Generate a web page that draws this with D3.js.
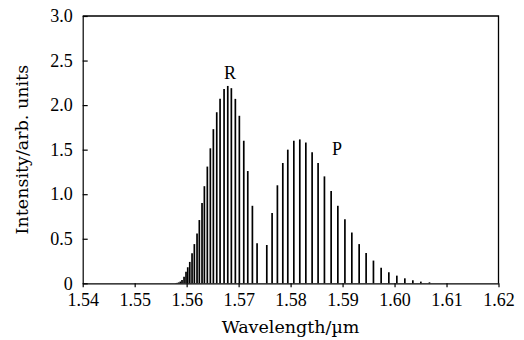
<!DOCTYPE html>
<html>
<head>
<meta charset="utf-8">
<script src="https://cdn.jsdelivr.net/npm/d3@7"></script>
<style>
  html, body { margin: 0; padding: 0; background: #fff; }
  svg { display: block; }
  text { font-family: "Liberation Serif", "Times New Roman", serif; fill: #000; }
</style>
</head>
<body>
<svg id="chart" width="524" height="340"></svg>
<script>
// R-branch line positions (µm) and intensities (arb. units)
const rWavelength = [
  1.55790, 1.55818, 1.55848, 1.55879, 1.55911, 1.55950, 1.55988, 1.56021,
  1.56060, 1.56104, 1.56148, 1.56200, 1.56244, 1.56296, 1.56341, 1.56398,
  1.56456, 1.56514, 1.56579, 1.56643, 1.56720, 1.56791, 1.56860, 1.56937,
  1.57014, 1.57099, 1.57176, 1.57265, 1.57355
];
const rIntensity = [
  0.002, 0.005, 0.010, 0.020, 0.037, 0.074, 0.130, 0.180,
  0.240, 0.337, 0.440, 0.560, 0.710, 0.900, 1.090, 1.310,
  1.515, 1.730, 1.920, 2.070, 2.180, 2.215, 2.190, 2.070,
  1.880, 1.600, 1.260, 0.870, 0.450
];

// P-branch line positions (µm) and intensities (arb. units)
const pWavelength = [
  1.57542, 1.57644, 1.57746, 1.57850, 1.57946, 1.58062, 1.58177, 1.58293,
  1.58414, 1.58529, 1.58651, 1.58780, 1.58909, 1.59045, 1.59178, 1.59319,
  1.59453, 1.59594, 1.59742, 1.59890, 1.60044, 1.60198, 1.60352, 1.60506,
  1.60672
];
const pIntensity = [
  0.430, 0.790, 1.100, 1.350, 1.500, 1.600, 1.615, 1.580,
  1.470, 1.350, 1.200, 1.035, 0.870, 0.720, 0.570, 0.440,
  0.340, 0.255, 0.175, 0.124, 0.086, 0.056, 0.034, 0.019,
  0.011
];

// Axis ticks
const xTicks = [1.54, 1.55, 1.56, 1.57, 1.58, 1.59, 1.60, 1.61, 1.62];
const yTicks = [0, 0.5, 1.0, 1.5, 2.0, 2.5, 3.0];

// Branch labels: [text, wavelength, intensity]
const branchLabels = [["R", 1.56835, 2.29], ["P", 1.58895, 1.44]];

const width = 524, height = 340;
const margin = { top: 16, right: 25.5, bottom: 56.7, left: 82.7 };
const titleFont = "'DejaVu Serif', serif";

const svg = d3.select("#chart");

const x = d3.scaleLinear()
  .domain([1.54, 1.62])
  .range([margin.left, width - margin.right]);
const y = d3.scaleLinear()
  .domain([0, 3.0])
  .range([height - margin.bottom, margin.top]);

const lines = rWavelength.map((w, i) => ({ w, v: rIntensity[i] }))
  .concat(pWavelength.map((w, i) => ({ w, v: pIntensity[i] })));

// Spectral lines drawn as vertical sticks
svg.append("g")
  .selectAll("line")
  .data(lines)
  .join("line")
  .attr("x1", d => x(d.w))
  .attr("x2", d => x(d.w))
  .attr("y1", y(0))
  .attr("y2", d => y(d.v))
  .attr("stroke", "#000")
  .attr("stroke-width", 1.7);

// Frame: top and right edges
svg.append("path")
  .attr("d", `M${x(1.54)},${y(3.0)}H${x(1.62)}V${y(0)}`)
  .attr("fill", "none")
  .attr("stroke", "#000")
  .attr("stroke-width", 1.3);

// Bottom axis (ticks outward)
const xAxis = d3.axisBottom(x)
  .tickValues(xTicks)
  .tickFormat(d3.format(".2f"))
  .tickSize(4)
  .tickSizeOuter(0)
  .tickPadding(6);
const gx = svg.append("g")
  .attr("transform", `translate(0,${y(0)})`)
  .call(xAxis);
gx.select(".domain").attr("stroke", "#000").attr("stroke-width", 1.2);
gx.selectAll(".tick line").attr("stroke", "#000").attr("stroke-width", 1.2);
gx.selectAll(".tick text")
  .style("font-family", "'Liberation Serif', serif")
  .style("font-size", "18px")
  .attr("fill", "#000");

// Left axis (ticks inward)
const yAxis = d3.axisLeft(y)
  .tickValues(yTicks)
  .tickFormat(d => d === 0 ? "0" : d3.format(".1f")(d))
  .tickSize(-5)
  .tickSizeOuter(0)
  .tickPadding(10);
const gy = svg.append("g")
  .attr("transform", `translate(${x(1.54)},0)`)
  .call(yAxis);
gy.select(".domain").attr("stroke", "#000").attr("stroke-width", 1.2);
gy.selectAll(".tick line").attr("stroke", "#000").attr("stroke-width", 1.2);
gy.selectAll(".tick text")
  .style("font-family", "'Liberation Serif', serif")
  .style("font-size", "18px")
  .attr("fill", "#000");

// Branch labels
svg.append("g")
  .selectAll("text")
  .data(branchLabels)
  .join("text")
  .attr("x", d => x(d[1]))
  .attr("y", d => y(d[2]))
  .attr("text-anchor", "middle")
  .style("font-size", "18px")
  .text(d => d[0]);

// Axis titles
svg.append("text")
  .attr("x", (x(1.54) + x(1.62)) / 2)
  .attr("y", 333)
  .attr("text-anchor", "middle")
  .style("font-family", titleFont)
  .style("font-size", "17.5px")
  .text("Wavelength/\u00b5m");

svg.append("text")
  .attr("transform", `translate(28,${(y(0) + y(3.0)) / 2}) rotate(-90)`)
  .attr("text-anchor", "middle")
  .style("font-family", titleFont)
  .style("font-size", "17.5px")
  .text("Intensity/arb. units");
</script>
</body>
</html>
